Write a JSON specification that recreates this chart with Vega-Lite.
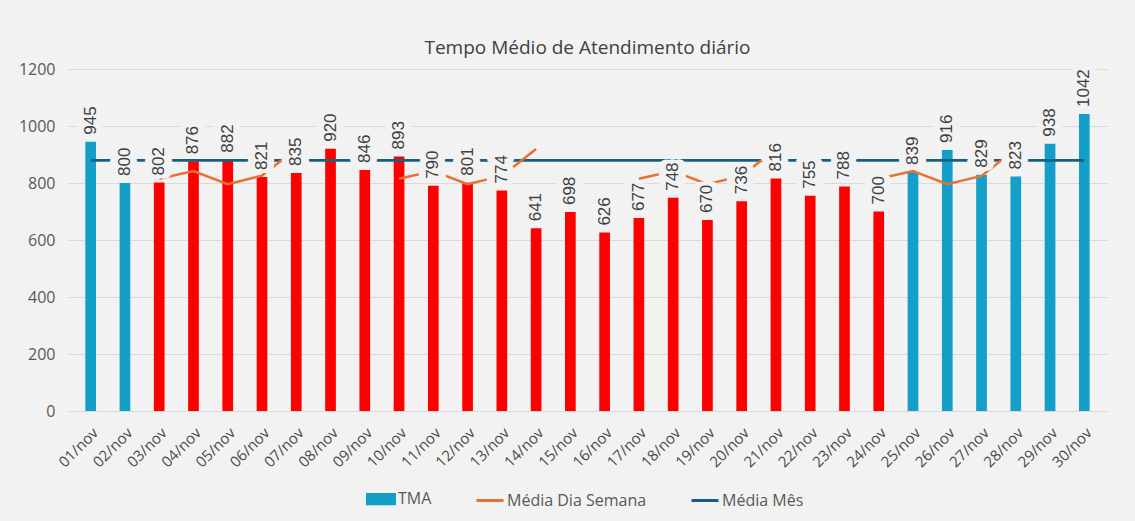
{
  "$schema": "https://vega.github.io/schema/vega-lite/v6.json",
  "width": 1039,
  "height": 342,
  "autosize": {"type": "none"},
  "padding": {"left": 68, "top": 69, "right": 28, "bottom": 110},
  "background": "#f2f2f2",
  "title": {"text": "Tempo Médio de Atendimento diário", "font": "Open Sans", "fontSize": 19, "fontWeight": "normal", "color": "#404040", "anchor": "middle", "offset": 3},
  "config": {"view": {"stroke": null}, "font": "Open Sans"},
  "data": {"values": [
    {"dia": "01/nov", "tma": 945, "mds": null, "mm": 879},
    {"dia": "02/nov", "tma": 800, "mds": null, "mm": 879},
    {"dia": "03/nov", "tma": 802, "mds": 815, "mm": 879},
    {"dia": "04/nov", "tma": 876, "mds": 842, "mm": 879},
    {"dia": "05/nov", "tma": 882, "mds": 796, "mm": 879},
    {"dia": "06/nov", "tma": 821, "mds": 826, "mm": 879},
    {"dia": "07/nov", "tma": 835, "mds": 919, "mm": 879},
    {"dia": "08/nov", "tma": 920, "mds": null, "mm": 879},
    {"dia": "09/nov", "tma": 846, "mds": null, "mm": 879},
    {"dia": "10/nov", "tma": 893, "mds": 815, "mm": 879},
    {"dia": "11/nov", "tma": 790, "mds": 842, "mm": 879},
    {"dia": "12/nov", "tma": 801, "mds": 796, "mm": 879},
    {"dia": "13/nov", "tma": 774, "mds": 825, "mm": 879},
    {"dia": "14/nov", "tma": 641, "mds": 919, "mm": 879},
    {"dia": "15/nov", "tma": 698, "mds": null, "mm": 879},
    {"dia": "16/nov", "tma": 626, "mds": null, "mm": 879},
    {"dia": "17/nov", "tma": 677, "mds": 815, "mm": 879},
    {"dia": "18/nov", "tma": 748, "mds": 842, "mm": 879},
    {"dia": "19/nov", "tma": 670, "mds": 796, "mm": 879},
    {"dia": "20/nov", "tma": 736, "mds": 825, "mm": 879},
    {"dia": "21/nov", "tma": 816, "mds": 919, "mm": 879},
    {"dia": "22/nov", "tma": 755, "mds": null, "mm": 879},
    {"dia": "23/nov", "tma": 788, "mds": null, "mm": 879},
    {"dia": "24/nov", "tma": 700, "mds": 815, "mm": 879},
    {"dia": "25/nov", "tma": 839, "mds": 842, "mm": 879},
    {"dia": "26/nov", "tma": 916, "mds": 796, "mm": 879},
    {"dia": "27/nov", "tma": 829, "mds": 825, "mm": 879},
    {"dia": "28/nov", "tma": 823, "mds": 919, "mm": 879},
    {"dia": "29/nov", "tma": 938, "mds": null, "mm": 879},
    {"dia": "30/nov", "tma": 1042, "mds": null, "mm": 879}
  ]},
  "encoding": {
    "x": {"field": "dia", "type": "ordinal", "sort": null, "title": null,
      "scale": {"paddingInner": 0.688, "paddingOuter": 0.506},
      "axis": {"labelAngle": -45, "labelFontSize": 15, "labelColor": "#4a4a4a", "labelFont": "Open Sans", "domain": false, "ticks": false, "labelPadding": 14}}
  },
  "layer": [
    {
      "mark": {"type": "bar"},
      "encoding": {
        "y": {"field": "tma", "type": "quantitative", "scale": {"domain": [0, 1200]},
          "axis": {"title": null, "format": "d", "values": [0, 200, 400, 600, 800, 1000, 1200], "grid": true, "gridColor": "#d9d9d9", "gridWidth": 1, "domain": false, "ticks": false, "labelPadding": 13, "labelFontSize": 16, "labelColor": "#595959", "labelFont": "Open Sans"}},
        "color": {
          "condition": {"test": "parseInt(datum.dia) >= 3 && parseInt(datum.dia) <= 24", "value": "#FF0000"},
          "datum": "TMA", "type": "nominal",
          "scale": {"domain": ["TMA", "Média Dia Semana", "Média Mês"], "range": ["#139FC8", "#E97132", "#156082"]},
          "legend": {"orient": "none", "legendX": 298, "legendY": 415, "direction": "horizontal", "title": null,
            "labelFontSize": 16, "labelColor": "#595959", "labelFont": "Open Sans", "columnPadding": 38, "labelOffset": 2, "symbolSize": 729,
            "encode": {"symbols": {"update": {
              "shape": {"signal": "datum.value === 'TMA' ? 'M-1,-0.34H1V0.34H-1Z' : 'M-1,0H1'"},
              "fill": {"signal": "datum.value === 'TMA' ? '#139FC8' : 'transparent'"},
              "stroke": {"signal": "datum.value === 'TMA' ? 'transparent' : (datum.value === 'Média Mês' ? '#156082' : '#E97132')"},
              "strokeWidth": {"value": 3},
              "opacity": {"value": 1}
            }}}}
        }
      }
    },
    {
      "mark": {"type": "line", "strokeWidth": 2.75},
      "encoding": {"y": {"field": "mm", "type": "quantitative", "title": null}, "color": {"datum": "Média Mês"}}
    },
    {
      "mark": {"type": "line", "strokeWidth": 2.5, "invalid": "break-paths-filter-domains"},
      "encoding": {"y": {"field": "mds", "type": "quantitative", "title": null}, "color": {"datum": "Média Dia Semana"}}
    },
    {
      "mark": {"type": "text", "angle": 270, "align": "left", "baseline": "middle", "dx": 7, "dy": -3.5, "font": "Liberation Sans", "fontSize": 17, "fill": "#f2f2f2", "stroke": "#f2f2f2", "strokeWidth": 8, "strokeJoin": "round"},
      "encoding": {"y": {"field": "tma", "type": "quantitative", "title": null}, "text": {"field": "tma"}}
    },
    {
      "mark": {"type": "text", "angle": 270, "align": "left", "baseline": "middle", "dx": 7, "dy": 3.5, "font": "Liberation Sans", "fontSize": 17, "fill": "#f2f2f2", "stroke": "#f2f2f2", "strokeWidth": 8, "strokeJoin": "round"},
      "encoding": {"y": {"field": "tma", "type": "quantitative", "title": null}, "text": {"field": "tma"}}
    },
    {
      "mark": {"type": "text", "angle": 270, "align": "left", "baseline": "middle", "dx": 7, "font": "Liberation Sans", "fontSize": 17, "color": "#404040"},
      "encoding": {"y": {"field": "tma", "type": "quantitative", "title": null}, "text": {"field": "tma"}}
    }
  ]
}
